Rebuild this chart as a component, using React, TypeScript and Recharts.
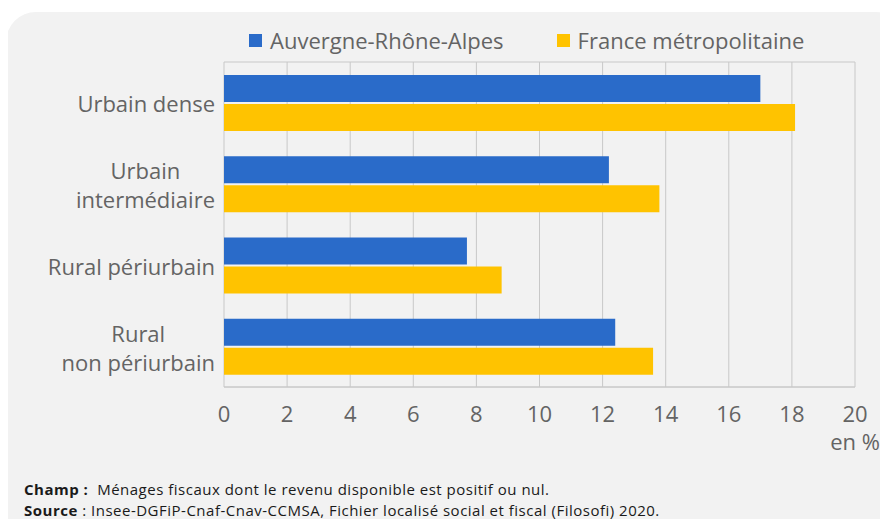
import { BarChart, Bar, XAxis, YAxis, CartesianGrid, Legend } from "recharts";

const categories = ["Urbain dense", "Urbain\nintermédiaire", "Rural périurbain", "Rural\nnon périurbain"];
const auvergne = [17.0, 12.2, 7.7, 12.4];
const france = [18.1, 13.8, 8.8, 13.6];
const xTicks = [0, 2, 4, 6, 8, 10, 12, 14, 16, 18, 20];
const seriesNames = ["Auvergne-Rhône-Alpes", "France métropolitaine"];
const seriesColors = ["#2a6bc9", "#ffc300"];

const FONT = "'Open Sans', sans-serif";
const TEXT = "#646464";
const GRID = "#c8c8c8";

const data = categories.map((cat, i) => ({
  cat,
  [seriesNames[0]]: auvergne[i],
  [seriesNames[1]]: france[i],
}));

let ctx: CanvasRenderingContext2D | null = null;
function measure(text: string, size: number) {
  if (!ctx) ctx = document.createElement("canvas").getContext("2d");
  if (!ctx) return text.length * size * 0.55;
  ctx.font = `${size}px 'Open Sans'`;
  return ctx.measureText(text).width;
}

function CategoryTick({ x, y, payload }: any) {
  const lines = String(payload.value).split("\n");
  const size = 22;
  const lh = 29;
  if (lines.length === 1) {
    return (
      <text x={x - 1} y={y + 2} dy="0.35em" textAnchor="end" fill={TEXT} fontSize={size} fontFamily={FONT}>
        {lines[0]}
      </text>
    );
  }
  const w = Math.max(...lines.map((l) => measure(l, size)));
  const cx = x - 1 - w / 2;
  return (
    <text x={cx} y={y} textAnchor="middle" fill={TEXT} fontSize={size} fontFamily={FONT}>
      {lines.map((l, i) => (
        <tspan key={i} x={cx} y={y + 2 + (i - (lines.length - 1) / 2) * lh} dy="0.35em">
          {l}
        </tspan>
      ))}
    </text>
  );
}

function LegendContent() {
  return (
    <div style={{ display: "flex", paddingLeft: 249, height: 30, alignItems: "center", fontFamily: FONT }}>
      {seriesNames.map((name, i) => (
        <div key={name} style={{ display: "flex", alignItems: "center", marginRight: 53 }}>
          <span style={{ width: 13, height: 13, background: seriesColors[i], display: "inline-block", marginRight: 8 }} />
          <span style={{ fontSize: 22, color: TEXT }}>{name}</span>
        </div>
      ))}
    </div>
  );
}

export default function App() {
  return (
    <div style={{ position: "relative", width: 888, height: 527, margin: -8, background: "#fff", overflow: "hidden" }}>
      <div
        style={{
          position: "absolute",
          left: 6,
          top: 12,
          width: 900,
          height: 540,
          borderRadius: 30,
          background: "#f2f2f2",
        }}
      />
      <div style={{ position: "absolute", left: 0, top: 0 }}>
        <BarChart
          width={888}
          height={470}
          data={data}
          layout="vertical"
          margin={{ top: 32, right: 33, left: 24, bottom: 23 }}
          barCategoryGap="16%"
          barGap={2}
        >
          <CartesianGrid
            stroke={GRID}
            horizontalCoordinatesGenerator={({ offset }: any) => [offset.top, offset.top + offset.height]}
          />
          <XAxis
            type="number"
            domain={[0, 20]}
            ticks={xTicks}
            interval={0}
            axisLine={{ stroke: GRID }}
            tickLine={false}
            tickMargin={13}
            tick={{ fill: TEXT, fontSize: 22, fontFamily: FONT }}
            height={60}
            label={({ viewBox }: any) => (
              <text
                x={viewBox.x + viewBox.width + 25}
                y={viewBox.y + 63}
                textAnchor="end"
                fill={TEXT}
                fontSize={22}
                fontFamily={FONT}
              >
                en %
              </text>
            )}
          />
          <YAxis type="category" dataKey="cat" width={200} axisLine={false} tickLine={false} tick={<CategoryTick />} />
          <Legend verticalAlign="top" content={<LegendContent />} wrapperStyle={{ top: 25, left: 0, width: 888 }} />
          {seriesNames.map((name, i) => (
            <Bar key={name} dataKey={name} fill={seriesColors[i]} isAnimationActive={false} />
          ))}
        </BarChart>
      </div>
      <div
        style={{
          position: "absolute",
          left: 24,
          top: 479,
          fontFamily: FONT,
          fontSize: 15,
          letterSpacing: 0.5,
          lineHeight: "21px",
          color: "#1a1a1a",
        }}
      >
        <div>
          <b>Champ :</b>&nbsp; Ménages fiscaux dont le revenu disponible est positif ou nul.
        </div>
        <div>
          <b>Source</b> : Insee-DGFiP-Cnaf-Cnav-CCMSA, Fichier localisé social et fiscal (Filosofi) 2020.
        </div>
      </div>
    </div>
  );
}
